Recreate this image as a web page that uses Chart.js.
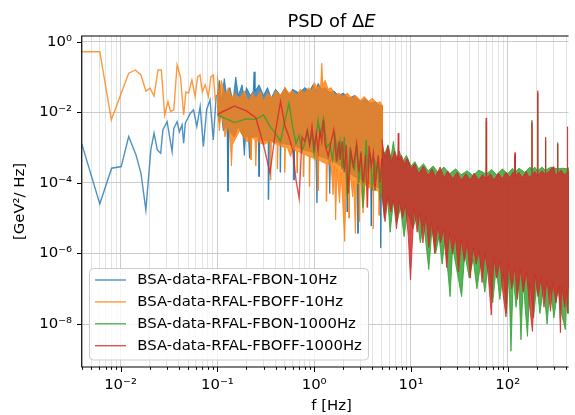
<!DOCTYPE html>
<html>
<head>
<meta charset="utf-8">
<script src="https://cdn.jsdelivr.net/npm/chart.js"></script>
<style>
  html, body { margin: 0; padding: 0; background: #fff; }
  #wrap { width: 575px; height: 415px; }
</style>
</head>
<body>
<div id="wrap"><canvas id="psd-chart" width="575" height="415"></canvas></div>
<script>
// Series names (legend order)
const seriesNames = [
  'BSA-data-RFAL-FBON-10Hz',
  'BSA-data-RFAL-FBOFF-10Hz',
  'BSA-data-RFAL-FBON-1000Hz',
  'BSA-data-RFAL-FBOFF-1000Hz'
];
const seriesColors = [
  'rgba(31,119,180,0.8)',
  'rgba(255,127,14,0.8)',
  'rgba(44,160,44,0.8)',
  'rgba(214,39,40,0.8)'
];

// Axis ticks
const xMajorTicks = [0.01, 0.1, 1, 10, 100];
const yTicks = [1e-8, 1e-6, 1e-4, 1e-2, 1];

// FBON-10Hz: resolved low-frequency points [f, psd]
const blueLine = [[0.00398,1.27e-3],[0.00611,2.55e-5],[0.00809,2.6e-4],[0.01016,2.9e-4],[0.01215,2.05e-3],
  [0.01445,6.2e-4],[0.01625,1.9e-4],[0.01828,1.7e-5],[0.02056,8.6e-4],[0.0222,2.55e-3],[0.024,8.6e-4],
  [0.026,6.9e-4],[0.0274,3.2e-3],[0.0303,5.4e-3],[0.0341,7.7e-4],[0.0355,3.5e-3],[0.0384,5.4e-3],
  [0.0406,2.8e-3],[0.0432,4.4e-3],[0.0449,1.33e-3],[0.0467,4.9e-3],[0.0526,9.4e-3],[0.0568,1.17e-2],
  [0.0614,4e-3],[0.0665,1.45e-2],[0.0718,1.07e-3],[0.0776,1.2e-2],[0.0841,2.24e-2],[0.0908,1.65e-3],[0.0975,3.1e-2]];
// FBON-10Hz: dense part, upper and lower envelope
const blueHi = [[0.1,0.03],[0.105,0.08],[0.11,0.02],[0.118,0.09],[0.125,0.03],[0.135,0.05],[0.145,0.02],
  [0.155,0.1],[0.165,0.03],[0.18,0.06],[0.19,0.025],[0.2,0.05],[0.22,0.03],[0.235,0.04],[0.24,0.14],
  [0.245,0.04],[0.27,0.06],[0.3,0.03],[0.33,0.05],[0.36,0.025],[0.4,0.045],[0.45,0.03],[0.5,0.05],
  [0.55,0.03],[0.6,0.045],[0.7,0.035],[0.8,0.05],[0.9,0.04],[0.97,0.06],[1.05,0.04],[1.1,0.066],
  [1.2,0.045],[1.3,0.05],[1.45,0.035],[1.6,0.04],[1.8,0.03],[2.0,0.035],[2.3,0.025],[2.6,0.03],
  [3.0,0.02],[3.4,0.025],[3.8,0.018],[4.3,0.02],[4.7,0.016],[5.05,0.015]];
const blueLo = [[0.1,1.5e-2],[0.105,5e-3],[0.11,1e-2],[0.115,3e-3],[0.126,4e-3],[0.129,5.7e-5],
  [0.132,3e-3],[0.15,2e-3],[0.165,4e-3],[0.185,2e-3],[0.19,6e-4],[0.196,2.2e-3],[0.21,2e-3],[0.215,5e-4],
  [0.22,2e-3],[0.25,2e-3],[0.265,2e-3],[0.27,1.5e-4],[0.275,1.8e-3],[0.31,1.6e-3],[0.335,1.6e-3],
  [0.34,3.4e-5],[0.345,1.6e-3],[0.42,1.4e-3],[0.445,1.3e-3],[0.45,2e-4],[0.455,1.3e-3],[0.58,1.2e-3],
  [0.61,1.1e-3],[0.62,1.2e-4],[0.63,1.1e-3],[0.85,8e-4],[1.04,7e-4],[1.07,2.7e-5],[1.1,6e-4],[1.3,5e-4],
  [1.42,4.5e-4],[1.45,5e-5],[1.48,4.5e-4],[1.6,4e-4],[2.0,2.7e-4],[2.17,2.2e-4],[2.2,1.5e-5],[2.23,2.2e-4],
  [2.5,1.6e-4],[2.8,1.4e-4],[2.84,3.7e-6],[2.88,1.4e-4],[3.5,1e-4],[3.85,9e-5],[3.9,6e-6],[3.95,9e-5],
  [4.2,8e-5],[4.85,7e-5],[4.9,1.45e-6],[4.95,7e-5],[5.05,7e-5]];

// FBOFF-10Hz
const orangeLine = [[0.00398,0.52],[0.00611,0.52],[0.00804,6.1e-3],[0.01215,0.128],[0.01422,0.158],
  [0.01625,0.114],[0.01828,0.04],[0.02021,0.048],[0.0222,0.029],[0.0244,0.158],[0.0264,0.158],
  [0.0286,8.4e-3],[0.0309,0.02],[0.0329,0.0104],[0.0355,0.0117],[0.0384,0.22],[0.0416,0.102],
  [0.0449,8.4e-3],[0.0474,0.038],[0.0505,0.035],[0.0546,0.082],[0.059,0.028],[0.0627,0.102],
  [0.0663,0.114],[0.07,0.038],[0.0749,0.06],[0.0808,0.028],[0.086,0.102],[0.0908,0.114],[0.0958,0.02]];
const orangeHi = [[0.1,0.11],[0.105,0.03],[0.11,0.08],[0.12,0.03],[0.13,0.05],[0.14,0.025],[0.15,0.035],
  [0.17,0.025],[0.19,0.04],[0.21,0.02],[0.23,0.035],[0.25,0.025],[0.28,0.04],[0.3,0.02],[0.33,0.035],
  [0.37,0.025],[0.4,0.04],[0.45,0.03],[0.5,0.05],[0.55,0.035],[0.6,0.04],[0.66,0.03],[0.72,0.045],
  [0.8,0.035],[0.88,0.05],[0.95,0.04],[1.0,0.07],[1.08,0.05],[1.17,0.06],[1.2,0.245],[1.23,0.06],
  [1.3,0.08],[1.4,0.045],[1.5,0.05],[1.65,0.03],[1.8,0.035],[2.0,0.028],[2.2,0.035],[2.45,0.025],
  [2.7,0.03],[3.0,0.022],[3.3,0.028],[3.6,0.02],[4.0,0.025],[4.4,0.018],[4.8,0.02],[5.05,0.016]];
const orangeLo = [[0.1,2e-2],[0.105,3e-3],[0.11,1.2e-2],[0.12,2e-3],[0.13,5e-3],[0.137,1.2e-3],
  [0.14,3e-4],[0.143,1.2e-3],[0.17,3e-3],[0.2,1.5e-3],[0.218,1.5e-3],[0.223,4.5e-4],[0.228,2e-3],
  [0.245,1.6e-3],[0.25,3e-4],[0.255,1.6e-3],[0.3,1.2e-3],[0.35,1.5e-3],[0.356,1.2e-4],[0.362,1.5e-3],
  [0.415,1.2e-3],[0.42,2.5e-4],[0.425,1.2e-3],[0.495,1e-3],[0.5,2e-4],[0.505,1e-3],[0.53,1e-3],
  [0.57,5.6e-4],[0.6,9e-4],[0.66,8e-4],[0.67,1.9e-4],[0.68,8e-4],[0.77,6.5e-4],[0.78,1.5e-4],[0.79,6.5e-4],
  [0.89,5.5e-4],[0.9,8e-5],[0.91,5.5e-4],[1.0,5e-4],[1.08,4.5e-4],[1.1,6e-5],[1.12,4.5e-4],[1.2,4e-4],
  [1.33,3.5e-4],[1.35,3e-5],[1.37,3.5e-4],[1.5,3e-4],[1.57,4.6e-5],[1.62,3e-4],[1.67,9e-6],[1.72,2.5e-4],
  [1.83,2.7e-5],[1.9,2e-4],[2.07,2.2e-6],[2.15,1.5e-4],[2.27,1.4e-4],[2.3,1e-5],[2.33,1.4e-4],[2.4,1.2e-4],
  [2.5,4e-5],[2.56,1.1e-4],[2.67,3.7e-6],[2.75,1e-4],[2.92,9.5e-5],[2.95,8e-6],[2.98,9.5e-5],[3.05,9e-5],
  [3.2,1.4e-5],[3.35,9e-5],[3.52,8e-5],[3.55,2e-5],[3.58,8e-5],[3.8,7e-5],[4.07,6.5e-5],[4.1,5e-6],
  [4.13,6.5e-5],[4.5,6e-5],[4.67,5.5e-5],[4.7,1.2e-5],[4.73,5.5e-5],[5.05,5e-5]];

// FBON-1000Hz
const greenLine = [[0.1,8.4e-3],[0.15,5.1e-3],[0.2,6.5e-3],[0.25,6.3e-3],[0.3,8.4e-3],[0.35,4e-3],
  [0.4,2.5e-3],[0.45,1.5e-3],[0.5,6e-3],[0.55,1.8e-2],[0.6,3.9e-3],[0.65,1.3e-3],[0.7,2.2e-3],[0.75,8e-4],
  [0.8,1.3e-3],[0.85,3e-3],[0.9,1.2e-3],[0.95,2.5e-3],[1.0,6e-4],[1.05,2e-3],[1.1,6e-3],[1.15,2e-3],
  [1.25,6.8e-3],[1.35,1e-3],[1.45,1.3e-3],[1.55,4.5e-4],[1.65,2e-3],[1.75,5e-4],[1.85,1.5e-3],[1.95,2.4e-4],
  [2.05,2e-3],[2.2,4e-5],[2.35,1e-3],[2.5,3e-4],[2.6,2.4e-4],[2.75,1.2e-3],[2.9,1e-4],[3.05,8e-4],
  [3.2,2e-5],[3.45,1.7e-3],[3.6,2e-4],[3.8,7e-4],[4.0,6e-5],[4.2,5e-4],[4.4,1.5e-4],[4.6,4e-4],
  [4.8,3e-5],[5.0,3.6e-4]];
const greenHi = [[5.0,8e-4],[5.4,7e-4],[5.8,1.2e-3],[6.2,5e-4],[6.6,1.5e-3],[7.0,4e-4],[7.6,8e-4],[8.2,4e-4],
  [9.0,6e-4],[10,3e-4],[11,4e-4],[12,2.5e-4],[13.5,3.5e-4],[15,2.2e-4],[17,3e-4],[19,2e-4],[22,2.8e-4],
  [25,1.8e-4],[29,2.5e-4],[33,1.7e-4],[38,2.2e-4],[44,1.6e-4],[50,2.3e-4],[59.5,1.8e-4],[60,5.5e-3],
  [60.5,1.8e-4],[68,2.4e-4],[77,1.7e-4],[88,2.5e-4],[100,1.8e-4],[112,2.6e-4],[118.5,2e-4],[119,6e-4],
  [119.5,2e-4],[130,2.6e-4],[150,2e-4],[170,2.8e-4],[177.5,2.2e-4],[178,6e-3],[178.5,2.2e-4],[190,2.8e-4],
  [203,2.2e-4],[204,3.5e-2],[205,2.2e-4],[225,2.8e-4],[245,2.3e-4],[246,1.6e-3],[247,2.3e-4],[280,2.8e-4],
  [327,2.5e-4],[328,1.4e-3],[329,2.5e-4],[370,2.6e-4],[415,2.5e-4],[425,2.7e-4]];
const greenLo = [[5.0,8e-5],[5.3,1e-5],[5.7,5e-5],[6.1,4e-6],[6.6,3e-5],[7.2,8e-6],[7.8,2e-5],[8.5,3e-6],
  [9.2,1.5e-5],[10.5,5e-6],[11.5,1.2e-5],[12.5,2e-6],[13.5,8e-6],[15.3,3.5e-7],[16.5,5e-6],[18,1e-6],
  [19.5,3e-6],[21,5e-7],[22.5,2.5e-6],[25.4,6e-8],[27,1.5e-6],[30,3e-7],[33.4,6e-8],[36,1e-6],[40,2e-7],
  [44,7e-7],[48,1e-7],[53,6e-7],[58,8e-8],[63,5e-7],[70,4e-8],[76,4e-7],[83,5e-8],[90,3e-7],[97,2e-8],
  [103,2.5e-7],[108,1.7e-9],[114,2e-7],[122,3e-8],[130,2e-7],[137,3.6e-9],[145,1.8e-7],[153,2e-8],
  [160,4.5e-9],[170,1.5e-7],[185,1.5e-8],[200,1.4e-7],[215,2e-8],[235,1.2e-7],[255,1e-8],[275,1.2e-7],
  [300,1.5e-8],[330,1e-7],[360,2e-8],[393,7e-9],[410,8e-8],[425,2e-8]];

// FBOFF-1000Hz
const redLine = [[0.1,8.8e-3],[0.15,1.5e-2],[0.2,1.1e-2],[0.25,7e-3],[0.3,1.2e-3],[0.35,1.9e-4],[0.4,3e-3],
  [0.45,2e-2],[0.5,4e-3],[0.55,2e-3],[0.6,8.6e-4],[0.65,1.2e-4],[0.7,3.7e-5],[0.75,2e-3],[0.8,1.5e-3],
  [0.85,3e-3],[0.9,1.2e-3],[0.95,3.9e-3],[1.0,1e-3],[1.05,2.5e-3],[1.1,8e-4],[1.15,3e-3],[1.2,1.5e-3],
  [1.25,6e-3],[1.3,1.2e-3],[1.4,5.6e-4],[1.5,1.5e-3],[1.6,3.2e-3],[1.7,4e-4],[1.8,1.5e-3],[1.85,4.5e-4],
  [1.95,1.5e-3],[2.05,2e-4],[2.15,1.2e-3],[2.25,5e-5],[2.4,8e-4],[2.55,3e-4],[2.75,1.3e-3],[2.9,2e-4],
  [3.05,7e-4],[3.2,1e-4],[3.4,6e-4],[3.55,2e-5],[3.7,1.1e-3],[3.9,3e-4],[4.1,7e-4],[4.25,6e-5],
  [4.4,2.3e-4],[4.6,6e-4],[4.8,1e-4],[5.0,5e-4]];
const redHi = [[5.0,1.7e-3],[5.4,5e-4],[5.8,1.1e-3],[6.3,4e-4],[6.8,8e-4],[7.3,4.5e-4],[7.4,2.55e-3],
  [7.5,4.5e-4],[8.0,6e-4],[8.5,3.5e-4],[9.2,5e-4],[10,2.5e-4],[11,3.5e-4],[12,1.8e-4],[13.5,3e-4],
  [15,1.6e-4],[16.5,2.5e-4],[18,1.5e-4],[20,2.8e-4],[22,1.4e-4],[24,2.2e-4],[27,1.3e-4],[30,2e-4],
  [33,1.2e-4],[37,1.8e-4],[41,1.2e-4],[45,1.9e-4],[50,1.2e-4],[55,1.7e-4],[59.5,1.3e-4],[60,6.9e-3],
  [60.5,1.3e-4],[66,1.8e-4],[72,1.2e-4],[80,1.9e-4],[88,1.3e-4],[96,2e-4],[105,1.4e-4],[113,2e-4],
  [118.5,1.5e-4],[119,7.2e-4],[119.5,1.5e-4],[130,2e-4],[142,1.4e-4],[155,2.1e-4],[165,1.5e-4],
  [177.5,1.6e-4],[178,5.2e-3],[178.5,1.6e-4],[190,2.1e-4],[203,1.6e-4],[204,4.1e-2],[205,1.6e-4],
  [225,2.2e-4],[245,1.7e-4],[246,2e-3],[247,1.7e-4],[270,2.2e-4],[298,2.9e-4],[310,1.7e-4],[327,1.8e-4],
  [328,1.25e-3],[329,1.8e-4],[355,2.3e-4],[385,1.7e-4],[414,2e-4],[415,3.9e-3],[416,2e-4],[425,2.2e-4]];
const redLo = [[5.0,5e-5],[5.4,8e-6],[5.8,4e-5],[6.2,1.5e-5],[6.6,3.5e-5],[7.1,5e-6],[7.6,3e-5],[8.2,1e-5],
  [8.8,2.5e-5],[9.4,3e-6],[9.9,1.8e-7],[10.8,2e-5],[11.6,4e-6],[12.4,1.5e-5],[13.3,2e-6],[14.3,1.2e-5],
  [15.3,1.5e-6],[16.4,8e-6],[17.6,1e-6],[18.9,6e-6],[20.3,2e-6],[21.8,5e-6],[23.4,4e-7],[25.1,4e-6],
  [26.9,1e-6],[28.9,3e-6],[31,3e-7],[33.2,2.5e-6],[35.6,6e-7],[38.2,2e-6],[41,2e-7],[44,1.5e-6],
  [47.2,5e-7],[50.6,1.2e-6],[54.3,1.5e-7],[58.3,1e-6],[62.5,3e-7],[67.6,1.8e-8],[72,8e-7],[77,2e-7],
  [83,6e-7],[89,8e-8],[96,1.6e-8],[102,5e-7],[110,1e-7],[118,4e-7],[126,5e-8],[135,3.5e-7],[145,8e-8],
  [156,3e-7],[167,4e-8],[180,6.2e-9],[192,2.5e-7],[206,6e-8],[221,2e-7],[237,3e-8],[254,1.8e-7],
  [277,2.3e-8],[293,1.5e-7],[314,4e-8],[337,1.2e-7],[350,5.7e-9],[361,1.2e-7],[388,3e-8],[405,1e-7],
  [416,2e-8],[425,1e-7]];

// Helpers
const toPoints = pairs => pairs.map(p => ({ x: p[0], y: p[1] }));
// upper envelope left to right, lower envelope back right to left
const bandShape = (hi, lo) => toPoints(hi).concat(toPoints(lo).reverse());

const supMap = { '-': '\u207B', '0': '\u2070', '1': '\u00B9', '2': '\u00B2', '3': '\u00B3',
  '4': '\u2074', '5': '\u2075', '6': '\u2076', '7': '\u2077', '8': '\u2078', '9': '\u2079' };
function powLabel(v) {
  const e = String(Math.round(Math.log10(v)));
  return '10' + e.split('').map(c => supMap[c]).join('');
}

// minor x ticks at 2..9 x decade
const xMinorTicks = [];
[0.001, 0.01, 0.1, 1, 10, 100].forEach(d => {
  for (let m = 2; m <= 9; m++) {
    const v = +(m * d).toPrecision(3);
    if (v >= 0.004 && v <= 425) xMinorTicks.push(v);
  }
});
const xAllTicks = xMajorTicks.concat(xMinorTicks).sort((a, b) => a - b);

const FONT = "'DejaVu Sans'";

function lineSet(i, pairs, order) {
  return {
    label: seriesNames[i],
    data: toPoints(pairs),
    borderColor: seriesColors[i],
    borderWidth: 1.4,
    pointRadius: 0,
    fill: false,
    order: order
  };
}
function bandSet(i, hi, lo, order) {
  return {
    label: seriesNames[i] + ' dense',
    data: bandShape(hi, lo),
    borderColor: seriesColors[i],
    backgroundColor: seriesColors[i],
    borderWidth: 1,
    pointRadius: 0,
    fill: 'shape',
    order: order
  };
}

// axes frame, tick marks, legend and texts
const framePlugin = {
  id: 'frame',
  afterDatasetsDraw(chart) {
    const ctx = chart.ctx;
    ctx.save();
    ctx.beginPath();
    ctx.roundRect(89.5, 268.5, 279, 91.5, 4);
    ctx.fillStyle = 'rgba(255,255,255,0.8)';
    ctx.fill();
    ctx.strokeStyle = '#cccccc';
    ctx.lineWidth = 1;
    ctx.stroke();
    ctx.font = '14.9px ' + FONT;
    ctx.textBaseline = 'middle';
    seriesNames.forEach((name, i) => {
      const y = 280 + i * 21.9;
      ctx.strokeStyle = seriesColors[i];
      ctx.lineWidth = 1.4;
      ctx.beginPath();
      ctx.moveTo(95, y);
      ctx.lineTo(126, y);
      ctx.stroke();
      ctx.fillStyle = '#000';
      ctx.fillText(name, 137.3, y + 0.5);
    });
    ctx.restore();
  },
  afterDraw(chart) {
    const ctx = chart.ctx;
    const { left, right, top, bottom } = chart.chartArea;
    const xs = chart.scales.x, ys = chart.scales.y;
    ctx.save();
    ctx.strokeStyle = '#000';
    ctx.lineWidth = 1.1;
    ctx.beginPath();
    ctx.moveTo(left - 0.3, top);
    ctx.lineTo(left - 0.3, bottom);
    ctx.moveTo(left - 0.8, bottom);
    ctx.lineTo(right, bottom);
    ctx.moveTo(left - 0.8, top);
    ctx.lineTo(right, top);
    ctx.stroke();
    // tick marks
    ctx.lineWidth = 1;
    ctx.beginPath();
    xAllTicks.forEach(v => {
      const px = Math.round(xs.getPixelForValue(v)) + 0.5;
      const len = xMajorTicks.includes(v) ? 5 : 2.8;
      ctx.moveTo(px, bottom);
      ctx.lineTo(px, bottom + len);
    });
    yTicks.forEach(v => {
      const py = Math.round(ys.getPixelForValue(v)) + 0.5;
      ctx.moveTo(left, py);
      ctx.lineTo(left - 5, py);
    });
    ctx.stroke();

    // title with italic E
    ctx.fillStyle = '#000';
    ctx.textBaseline = 'alphabetic';
    ctx.font = '17.9px ' + FONT;
    const t1 = 'PSD of \u0394';
    const w1 = ctx.measureText(t1).width;
    ctx.font = 'oblique 17.9px ' + FONT;
    const w2 = ctx.measureText('E').width;
    const tx = 331.5 - (w1 + w2) / 2;
    ctx.font = '17.9px ' + FONT;
    ctx.fillText(t1, tx, 26.5);
    ctx.font = 'oblique 17.9px ' + FONT;
    ctx.fillText('E', tx + w1, 26.5);

    // axis labels
    ctx.font = '14.9px ' + FONT;
    ctx.textAlign = 'center';
    ctx.textBaseline = 'middle';
    ctx.fillText('f [Hz]', 331.5, 406.5);
    ctx.translate(20, 201.5);
    ctx.rotate(-Math.PI / 2);
    ctx.fillText('[GeV\u00B2/ Hz]', 0, 0);
    ctx.restore();
  }
};

const chart = new Chart(document.getElementById('psd-chart'), {
  type: 'line',
  data: {
    datasets: [
      lineSet(0, blueLine, 8), bandSet(0, blueHi, blueLo, 7),
      lineSet(1, orangeLine, 6), bandSet(1, orangeHi, orangeLo, 5),
      lineSet(2, greenLine, 4), bandSet(2, greenHi, greenLo, 3),
      lineSet(3, redLine, 2), bandSet(3, redHi, redLo, 1)
    ]
  },
  options: {
    responsive: false,
    animation: false,
    layout: { padding: { top: 36, left: 0, right: 0, bottom: 0 } },
    plugins: {
      legend: { display: false },
      tooltip: { enabled: false },
      title: { display: false }
    },
    elements: { line: { tension: 0 }, point: { radius: 0 } },
    scales: {
      x: {
        type: 'logarithmic',
        min: 0.004,
        max: 425,
        afterFit: s => { s.height = 48; },
        afterBuildTicks: s => { s.ticks = xAllTicks.map(v => ({ value: v, major: xMajorTicks.includes(v) })); },
        ticks: {
          autoSkip: false,
          maxRotation: 0,
          padding: 9,
          color: '#000',
          font: { family: FONT, size: 14.9 },
          callback: v => xMajorTicks.includes(v) ? powLabel(v) : ''
        },
        grid: {
          drawTicks: false,
          color: c => (c.tick && xMajorTicks.includes(c.tick.value)) ? '#cbcbcb' : '#e3e3e3',
          lineWidth: 1
        },
        border: { display: false }
      },
      y: {
        type: 'logarithmic',
        min: 6.08e-10,
        max: 1.45,
        afterFit: s => { s.width = 82; },
        afterBuildTicks: s => { s.ticks = yTicks.map(v => ({ value: v, major: true })); },
        ticks: {
          autoSkip: false,
          padding: 10,
          color: '#000',
          font: { family: FONT, size: 14.9 },
          callback: v => powLabel(v)
        },
        grid: { drawTicks: false, color: '#cbcbcb', lineWidth: 1 },
        border: { display: false }
      }
    }
  },
  plugins: [framePlugin]
});
</script>
</body>
</html>
